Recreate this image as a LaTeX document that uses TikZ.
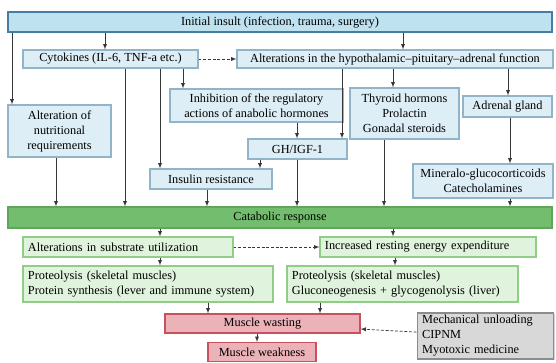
\documentclass[tikz,border=0pt]{standalone}
\usepackage{fontspec}
\setmainfont{Liberation Serif}
\usetikzlibrary{shadows}
\definecolor{bleufond}{RGB}{222,238,246}
\definecolor{bleubord}{RGB}{145,180,200}
\definecolor{bleuhaut}{RGB}{190,226,240}
\definecolor{bleufonce}{RGB}{70,125,160}
\definecolor{vertfort}{RGB}{115,190,110}
\definecolor{vertbord}{RGB}{95,165,90}
\definecolor{vertfond}{RGB}{224,243,220}
\definecolor{vertclair}{RGB}{145,205,135}
\definecolor{rosefond}{RGB}{235,178,183}
\definecolor{rosebord}{RGB}{200,80,95}
\definecolor{grisfond}{RGB}{216,216,216}
\definecolor{grisbord}{RGB}{140,140,140}
\definecolor{trait}{RGB}{55,55,55}
\begin{document}
\begin{tikzpicture}[x=0.03cm, y=-0.03cm]
	\tikzset{boite/.style={rectangle, draw, line width=0.9pt, inner sep=0pt, align=center,
			font=\fontsize{10.5}{12.8}\selectfont, drop shadow={shadow xshift=0.8pt, shadow yshift=-0.8pt, fill=black!35}},
		bleu/.style={boite, fill=bleufond, draw=bleubord},
		haut/.style={boite, fill=bleuhaut, draw=bleufonce},
		vert/.style={boite, fill=vertfond, draw=vertclair},
		catab/.style={boite, fill=vertfort, draw=vertbord},
		rose/.style={boite, fill=rosefond, draw=rosebord},
		gris/.style={boite, fill=grisfond, draw=grisbord},
		gauche/.style={align=left, inner xsep=0.15cm, text width=#1},
		fleche/.style={->, >=latex, draw=trait, line width=0.6pt},
		pointille/.style={fleche, dash pattern=on 2.5pt off 1.5pt}}

	\useasboundingbox (0,0) rectangle (556,363);

	% blue part
	\node[haut, minimum width=16.32cm, minimum height=0.6cm] (insult) at (280,22) {Initial insult (infection, trauma, surgery)};
	\node[bleu, minimum width=5.25cm, minimum height=0.54cm] (cyto) at (110.5,59) {Cytokines (IL-6, TNF-a etc.)};
	\node[bleu, minimum width=9.48cm, minimum height=0.54cm] (hpa) at (395,59) {Alterations in the hypothalamic–pituitary–adrenal function};
	\node[bleu, minimum width=5.19cm, minimum height=0.99cm] (inhib) at (256.5,105.5) {Inhibition of the regulatory\\actions of anabolic hormones};
	\node[bleu, minimum width=3.27cm, minimum height=1.53cm] (thyro) at (404.5,113.5) {Thyroid hormons\\Prolactin\\Gonadal steroids};
	\node[bleu, minimum width=2.67cm, minimum height=0.63cm] (adren) at (507.5,106.5) {Adrenal gland};
	\node[bleu, minimum width=3.09cm, minimum height=1.56cm] (nutri) at (59.5,131) {Alteration of\\nutritional\\requirements};
	\node[bleu, minimum width=2.97cm, minimum height=0.6cm] (ghigf) at (297.5,149) {GH/IGF-1};
	\node[bleu, minimum width=3.66cm, minimum height=0.6cm] (insul) at (211,179) {Insulin resistance};
	\node[bleu, minimum width=4.2cm, minimum height=1.02cm] (miner) at (483,181) {Mineralo-glucocorticoids\\Catecholamines};

	% green part
	\node[catab, minimum width=16.32cm, minimum height=0.63cm] (catab) at (280,217.5) {Catabolic response};
	\node[vert, gauche=6cm, minimum height=0.6cm] (subst) at (128,247) {Alterations in substrate utilization};
	\node[vert, gauche=6.18cm, minimum height=0.6cm] (energ) at (428,247) {Increased resting energy expenditure};
	\node[vert, gauche=7.2cm, minimum height=1.08cm] (protG) at (148,284) {Proteolysis (skeletal muscles)\\Protein synthesis (lever and immune system)};
	\node[vert, gauche=6.63cm, minimum height=1.08cm] (protD) at (402.5,284) {Proteolysis (skeletal muscles)\\Gluconeogenesis + glycogenolysis (liver)};

	% red part
	\node[rose, minimum width=5.85cm, minimum height=0.57cm] (wast) at (262.5,323.5) {Muscle wasting};
	\node[rose, minimum width=3.24cm, minimum height=0.57cm] (weak) at (262,352) {Muscle weakness};
	\node[gris, gauche=3.8cm, minimum height=1.38cm] (meca) at (485.5,336) {Mechanical unloading\\CIPNM\\Myotoxic medicine};

	% arrows
	\draw[fleche] (insult.south -| 105,0) -- (cyto.north -| 105,0);
	\draw[fleche] (insult.south -| 403,0) -- (hpa.north -| 403,0);
	\draw[fleche] (insult.south -| 12,0) -- (nutri.north -| 12,0);
	\draw[pointille] (cyto) -- (hpa);
	\draw[fleche] (cyto.south -| 183,0) -- (inhib.north -| 183,0);
	\draw[fleche] (cyto.south -| 125,0) -- (catab.north -| 125,0);
	\draw[fleche] (cyto.south -| 160,0) -- (insul.north -| 160,0);
	\draw[fleche] (hpa.south -| 342,0) -- (ghigf.north -| 342,0);
	\draw[fleche] (hpa.south -| 393,0) -- (thyro.north -| 393,0);
	\draw[fleche] (hpa.south -| 508,0) -- (adren.north -| 508,0);
	\draw[fleche] (inhib.south -| 297,0) -- (ghigf.north -| 297,0);
	\draw[fleche] (ghigf.south -| 297,0) -- (catab.north -| 297,0);
	\draw[fleche] (ghigf.south -| 260,0) -- (insul.north -| 260,0);
	\draw[fleche] (insul.south -| 207,0) -- (catab.north -| 207,0);
	\draw[fleche] (nutri.south -| 56,0) -- (catab.north -| 56,0);
	\draw[fleche] (thyro.south -| 384,0) -- (catab.north -| 384,0);
	\draw[fleche] (adren.south -| 510,0) -- (miner.north -| 510,0);
	\draw[fleche] (miner.south -| 510,0) -- (catab.north -| 510,0);
	\draw[fleche] (catab.south -| 160,0) -- (subst.north -| 160,0);
	\draw[fleche] (catab.south -| 393,0) -- (energ.north -| 393,0);
	\draw[pointille] (subst) -- (energ);
	\draw[fleche] (subst.south -| 160,0) -- (protG.north -| 160,0);
	\draw[fleche] (energ.south -| 395,0) -- (protD.north -| 395,0);
	\draw[fleche] (protG.south -| 208,0) -- (wast.north -| 208,0);
	\draw[fleche] (protD.south -| 320,0) -- (wast.north -| 320,0);
	\draw[pointille] (meca) -- (wast);
	\draw[fleche] (wast.south -| 257,0) -- (weak.north -| 257,0);
\end{tikzpicture}
\end{document}
